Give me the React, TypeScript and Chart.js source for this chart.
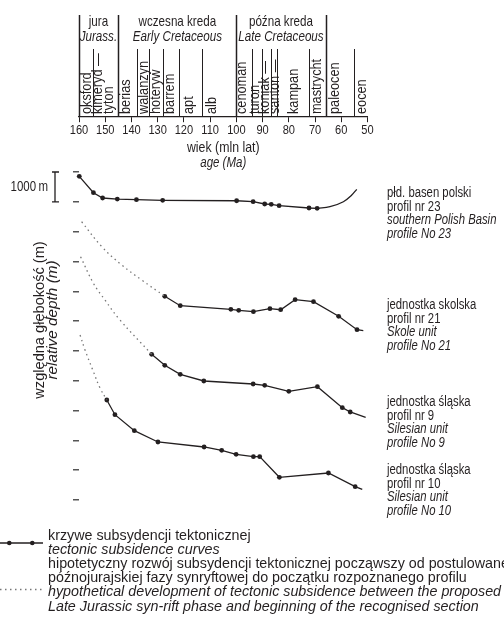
import React, { useEffect, useRef } from 'react';
import { Chart, registerables } from 'chart.js';
Chart.register(...registerables);

const INK = '#231f20';
const SANS = '"Liberation Sans", Arial, sans-serif';
const NARROW_X = 0.82;

// axis ticks
const AGE_TICKS = [160, 150, 140, 130, 120, 110, 100, 90, 80, 70, 60, 50];
const DEPTH_TICKS = [0, 1000, 2000, 3000, 4000, 5000, 6000, 7000, 8000, 9000, 10000, 11000];
const Y_MIN = -1845;
const Y_MAX = 11000;

// stratigraphy (ages, Ma)
const PERIOD_BOUNDS = [160, 145, 100, 66];
const STAGE_BOUNDS = [154.5, 138, 133.2, 128, 122, 113, 93.9, 90.2, 86.9, 84.5, 72.3, 55.1];
const PERIODS_PL = ['jura', 'wczesna kreda', 'późna kreda'];
const PERIODS_EN = ['Jurass.', 'Early Cretaceous', 'Late Cretaceous'];
const PERIOD_CENTERS = [152.6, 122.5, 83];
const STAGES = ['oksford', 'kimeryd —', 'tyton', 'berias', 'walanzyn', 'hoteryw', 'barrem', 'apt', 'alb',
  'cenoman', 'turon', 'koniak —', 'santon —', 'kampan', 'mastrycht', 'paleocen', 'eocen'];
const STAGE_CENTERS = [157, 153, 148.6, 142, 135.5, 130.6, 125.3, 118.3, 109.4, 98, 92.9, 89.1, 85.2, 78.3, 69.3, 62.4, 52.2];

// profile 23 – southern Polish Basin
const age23 = [159.9, 154.5, 151.0, 145.4, 138.1, 128.1, 99.9, 93.6, 89.2, 86.7, 83.7, 72.3, 69.2];
const dep23 = [144, 694, 872, 906, 929, 949, 963, 996, 1073, 1083, 1130, 1207, 1217];
const age23tail = [69.2, 64.3, 59.2, 56.0, 54.1];
const dep23tail = [1217, 1164, 996, 771, 580];

// profile 21 – Skole unit
const age21 = [127.3, 121.4, 102.1, 99.1, 93.5, 87.2, 83.1, 77.6, 70.6, 61.0, 54.0, 51.6];
const dep21 = [4168, 4484, 4604, 4638, 4685, 4584, 4618, 4282, 4349, 4839, 5288, 5322];
const age21hyp = [159.0, 151.3, 143.7, 136.1, 127.3];
const dep21hyp = [1667, 2505, 3119, 3622, 4168];

// profile 9 – Silesian unit
const age9 = [132.3, 127.3, 121.4, 112.4, 93.6, 89.2, 80.0, 69.1, 59.6, 56.6, 50.7];
const dep9 = [6113, 6482, 6784, 7009, 7109, 7153, 7354, 7200, 7904, 8048, 8226];
const age9hyp = [159.4, 154.5, 150.1, 144.6, 132.3];
const dep9hyp = [2840, 3732, 4292, 4940, 6113];

// profile 10 – Silesian unit
const age10 = [149.4, 146.3, 138.9, 129.9, 112.3, 105.6, 100.1, 93.5, 91.1, 83.6, 64.9, 54.7, 52.0];
const dep10 = [7646, 8139, 8675, 9054, 9222, 9333, 9467, 9547, 9547, 10238, 10094, 10553, 10641];
const age10hyp = [159.6, 157.7, 154.5, 152.0, 149.4];
const dep10hyp = [5466, 5969, 6697, 7243, 7646];

// site labels (right side), anchored at depths
const SITE_LABELS = [
  ['płd. basen polski', 'profil nr 23', 'southern Polish Basin', 'profile No 23'],
  ['jednostka skolska', 'profil nr 21', 'Skole unit', 'profile No 21'],
  ['jednostka śląska', 'profil nr 9', 'Silesian unit', 'profile No 9'],
  ['jednostka śląska', 'profil nr 10', 'Silesian unit', 'profile No 10'],
];
const SITE_ANCHORS = [704, 4461, 7714, 9995];

const LEGEND_SOLID = ['krzywe subsydencji tektonicznej', 'tectonic subsidence curves'];
const LEGEND_DOTTED = [
  'hipotetyczny rozwój subsydencji tektonicznej począwszy od postulowanej',
  'późnojurajskiej fazy synryftowej do początku rozpoznanego profilu',
  'hypothetical development of tectonic subsidence between the proposed',
  'Late Jurassic syn-rift phase and beginning of the recognised section',
];

type TOpts = { size: number; italic?: boolean; align?: CanvasTextAlign; sx?: number; rot?: number; family?: string };
function drawText(ctx: CanvasRenderingContext2D, t: string, x: number, y: number, o: TOpts) {
  ctx.save();
  ctx.translate(x, y);
  if (o.rot) ctx.rotate(o.rot);
  ctx.scale(o.sx ?? NARROW_X, 1);
  ctx.font = `${o.italic ? 'italic ' : ''}${o.size}px ${o.family ?? SANS}`;
  ctx.textAlign = o.align ?? 'left';
  ctx.textBaseline = 'middle';
  ctx.fillText(t, 0, 0);
  ctx.restore();
}

const overlay = {
  id: 'overlay',
  afterDraw(chart: any) {
    const ctx: CanvasRenderingContext2D = chart.ctx;
    const xs = chart.scales.x;
    const ys = chart.scales.y;
    const axisY = ys.getPixelForValue(Y_MIN);
    const X = (a: number) => xs.getPixelForValue(a);
    ctx.save();
    ctx.fillStyle = INK;
    ctx.strokeStyle = INK;

    // period boundaries
    ctx.lineWidth = 1.5;
    PERIOD_BOUNDS.forEach((a) => {
      const x = Math.round(X(a)) + 0.5;
      ctx.beginPath(); ctx.moveTo(x, 15); ctx.lineTo(x, axisY); ctx.stroke();
    });
    ctx.lineWidth = 1;
    STAGE_BOUNDS.forEach((a) => {
      const x = Math.round(X(a)) + 0.5;
      ctx.beginPath(); ctx.moveTo(x, 49); ctx.lineTo(x, axisY); ctx.stroke();
    });

    // period names
    PERIODS_PL.forEach((t, i) => {
      drawText(ctx, t, X(PERIOD_CENTERS[i]), 22, { size: 14.2, align: 'center' });
      drawText(ctx, PERIODS_EN[i], X(PERIOD_CENTERS[i]), 37, { size: 14.2, italic: true, align: 'center' });
    });

    // stage names (rotated)
    STAGES.forEach((t, i) => {
      drawText(ctx, t, X(STAGE_CENTERS[i]), 114, { size: 15.5, rot: -Math.PI / 2 });
    });

    // x tick labels (from the scale's ticks)
    xs.ticks.forEach((tk: any) => {
      drawText(ctx, String(tk.value), X(tk.value), 130, { size: 13.5, align: 'center' });
    });

    // x axis title
    const cx = (xs.left + xs.right) / 2;
    drawText(ctx, 'wiek (mln lat)', cx, 148, { size: 14.5, align: 'center', sx: 0.85 });
    drawText(ctx, 'age (Ma)', cx, 163, { size: 14, italic: true, align: 'center' });

    // y axis title
    drawText(ctx, 'względna głębokość (m)', 40, 320, { size: 14.6, align: 'center', rot: -Math.PI / 2, sx: 1 });
    drawText(ctx, 'relative depth (m)', 53, 320, { size: 14.6, italic: true, align: 'center', rot: -Math.PI / 2, sx: 1.05 });

    // scale bar 1000 m
    const y0 = ys.getPixelForValue(0);
    const y1 = ys.getPixelForValue(1000);
    ctx.lineWidth = 1.3;
    ctx.beginPath();
    ctx.moveTo(55, y0); ctx.lineTo(55, y1);
    ctx.moveTo(52, y0); ctx.lineTo(59, y0);
    ctx.moveTo(52, y1); ctx.lineTo(59, y1);
    ctx.stroke();
    drawText(ctx, '1000\u2009m', 48, (y0 + y1) / 2, { size: 14, align: 'right' });

    // site labels
    SITE_LABELS.forEach((lines, i) => {
      const yy = ys.getPixelForValue(SITE_ANCHORS[i]);
      lines.forEach((t, j) => {
        drawText(ctx, t, 387, yy + j * 13.7, { size: 13.8, italic: j >= 2 });
      });
    });

    // legend
    ctx.lineWidth = 1.3;
    ctx.beginPath(); ctx.moveTo(0, 543); ctx.lineTo(43, 543); ctx.stroke();
    [9.3, 32.3].forEach((x) => { ctx.beginPath(); ctx.arc(x, 543, 2.3, 0, Math.PI * 2); ctx.fill(); });
    ctx.save();
    ctx.strokeStyle = '#777';
    ctx.setLineDash([1.5, 3.5]);
    ctx.beginPath(); ctx.moveTo(0, 589.5); ctx.lineTo(43, 589.5); ctx.stroke();
    ctx.restore();
    LEGEND_SOLID.forEach((t, j) => {
      drawText(ctx, t, 48, 536 + j * 14.2, { size: 14.3, italic: j === 1, sx: 1 });
    });
    LEGEND_DOTTED.forEach((t, j) => {
      drawText(ctx, t, 48, 564 + j * 14.2, { size: 14.3, italic: j >= 2, sx: 1 });
    });
    ctx.restore();
  },
};

function pts(xs: number[], ys: number[]) {
  return xs.map((x, i) => ({ x, y: ys[i] }));
}

export default function App() {
  const ref = useRef<HTMLCanvasElement>(null);
  useEffect(() => {
    const solid = (xs: number[], ys: number[], lastNoDot: boolean) => ({
      data: pts(xs, ys),
      borderColor: INK,
      backgroundColor: INK,
      borderWidth: 1.3,
      pointRadius: xs.map((_, i) => (lastNoDot && i === xs.length - 1 ? 0 : 2.4)),
      pointBackgroundColor: INK,
      pointBorderWidth: 0,
      tension: 0,
      clip: false,
    });
    const dotted = (xs: number[], ys: number[]) => ({
      data: pts(xs, ys),
      borderColor: '#777',
      borderWidth: 1.3,
      borderDash: [1.5, 3.5],
      pointRadius: 0,
      tension: 0.4,
      clip: false,
    });
    const tail = {
      data: pts(age23tail, dep23tail),
      borderColor: INK,
      borderWidth: 1.3,
      pointRadius: 0,
      tension: 0.4,
      clip: false,
    };
    const chart = new Chart(ref.current!, {
      type: 'line',
      data: {
        datasets: [
          dotted(age21hyp, dep21hyp),
          dotted(age9hyp, dep9hyp),
          dotted(age10hyp, dep10hyp),
          tail,
          solid(age23, dep23, false),
          solid(age21, dep21, true),
          solid(age9, dep9, true),
          solid(age10, dep10, true),
        ] as any,
      },
      options: {
        animation: false,
        responsive: true,
        maintainAspectRatio: false,
        events: [],
        layout: { padding: { left: 73, right: 136.5, top: 117, bottom: 136 } },
        plugins: { legend: { display: false }, tooltip: { enabled: false } },
        scales: {
          x: {
            type: 'linear',
            reverse: true,
            min: 50,
            max: 160,
            position: { y: Y_MIN } as any,
            afterBuildTicks: (s: any) => { s.ticks = AGE_TICKS.map((v) => ({ value: v })); },
            afterFit: (s: any) => { s.paddingLeft = 0; s.paddingRight = 0; },
            grid: { drawOnChartArea: false, drawTicks: true, tickLength: 5, color: INK, lineWidth: 1 },
            border: { display: true, color: INK, width: 1.2 },
            ticks: { display: false },
          },
          y: {
            type: 'linear',
            reverse: true,
            min: Y_MIN,
            max: Y_MAX,
            position: 'left',
            afterBuildTicks: (s: any) => { s.ticks = DEPTH_TICKS.map((v) => ({ value: v })); },
            grid: { drawOnChartArea: false, drawTicks: true, tickLength: 6, color: '#555', lineWidth: 1.5 },
            border: { display: false },
            ticks: { display: false },
          },
        },
      },
      plugins: [overlay],
    });
    return () => chart.destroy();
  }, []);
  return (
    <div style={{ position: 'fixed', left: 0, top: 0, width: 504, height: 636, background: '#fff' }}>
      <canvas ref={ref} />
    </div>
  );
}
